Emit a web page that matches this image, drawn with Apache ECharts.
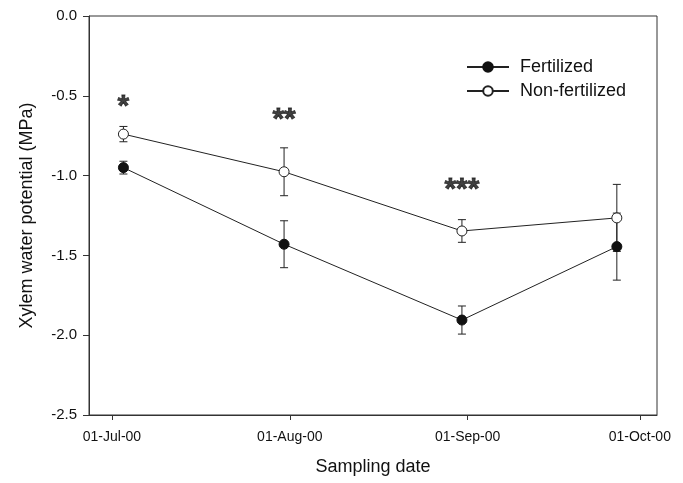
<!DOCTYPE html>
<html>
<head>
<meta charset="utf-8">
<script src="https://cdn.jsdelivr.net/npm/echarts@6/dist/echarts.min.js"></script>
<style>
  html, body { margin: 0; padding: 0; background: #fff; }
  #chart { width: 683px; height: 483px; }
</style>
</head>
<body>
<div id="chart"></div>
<script>
// sampling dates and values (MPa)
var sampleDates = ['2000-07-03', '2000-07-31', '2000-08-31', '2000-09-27'];
var fertMean = [-0.95, -1.43, -1.905, -1.445];
var fertErr = [0.04, 0.147, 0.088, 0.21];
var nonFertMean = [-0.74, -0.976, -1.347, -1.265];
var nonFertErr = [0.048, 0.15, 0.071, 0.21];

// significance marks
var sigDates = ['2000-07-03', '2000-07-31', '2000-08-31'];
var sigLevel = [-0.568, -0.648, -1.088];
var sigText = ['*', '**', '***'];

// axis ticks
var tickDates = ['2000-07-01', '2000-08-01', '2000-09-01', '2000-10-01'];
var tickLabels = ['01-Jul-00', '01-Aug-00', '01-Sep-00', '01-Oct-00'];

var FONT = 'Liberation Sans, Arial, sans-serif';
var INK = '#111';

function t(d) { return Date.parse(d); }
var tickTimes = tickDates.map(t);

function pts(mean) {
  return sampleDates.map(function (d, i) { return [t(d), mean[i]]; });
}
function bars(mean, err) {
  return sampleDates.map(function (d, i) { return [t(d), mean[i] - err[i], mean[i] + err[i]]; });
}

function errorBar(params, api) {
  var x = api.value(0);
  var lo = api.coord([x, api.value(1)]);
  var hi = api.coord([x, api.value(2)]);
  var cap = 4;
  var st = { stroke: '#222', lineWidth: 1 };
  return {
    type: 'group',
    children: [
      { type: 'line', shape: { x1: lo[0], y1: lo[1], x2: hi[0], y2: hi[1] }, style: st },
      { type: 'line', shape: { x1: lo[0] - cap, y1: lo[1], x2: lo[0] + cap, y2: lo[1] }, style: st },
      { type: 'line', shape: { x1: hi[0] - cap, y1: hi[1], x2: hi[0] + cap, y2: hi[1] }, style: st }
    ]
  };
}

var chart = echarts.init(document.getElementById('chart'));

chart.setOption({
  backgroundColor: '#fff',
  animation: false,
  textStyle: { fontFamily: FONT },
  grid: { left: 89, right: 26, top: 16, bottom: 68, show: true, borderColor: '#333', borderWidth: 1 },
  legend: {
    data: ['Fertilized', 'Non-fertilized'],
    orient: 'vertical',
    left: 466,
    top: 58,
    padding: 0,
    itemWidth: 42,
    itemHeight: 12,
    itemGap: 6,
    textStyle: { fontSize: 18, lineHeight: 18, color: INK, fontFamily: FONT, padding: [0, 0, 0, 6] }
  },
  xAxis: {
    type: 'value',
    min: t('2000-06-27'),
    max: t('2000-10-04'),
    name: 'Sampling date',
    nameLocation: 'middle',
    nameGap: 43,
    nameTextStyle: { fontSize: 18, color: INK, fontFamily: FONT },
    axisLine: { onZero: false, lineStyle: { color: '#333' } },
    axisTick: { show: true, inside: false, length: 5, customValues: tickTimes, lineStyle: { color: '#333' } },
    axisLabel: {
      customValues: tickTimes,
      fontSize: 14, color: INK, margin: 15, fontFamily: FONT,
      formatter: function (v) {
        var i = tickTimes.indexOf(v);
        return i >= 0 ? tickLabels[i] : '';
      }
    },
    splitLine: { show: false }
  },
  yAxis: {
    type: 'value',
    min: -2.5,
    max: 0,
    interval: 0.5,
    name: 'Xylem water potential (MPa)',
    nameLocation: 'middle',
    nameGap: 53,
    nameTextStyle: { fontSize: 18, color: INK, fontFamily: FONT },
    axisLine: { show: true, onZero: false, lineStyle: { color: '#333' } },
    axisTick: { show: true, inside: false, length: 6, lineStyle: { color: '#333' } },
    axisLabel: {
      fontSize: 15, color: INK, margin: 12, fontFamily: FONT,
      formatter: function (v) { return v.toFixed(1); }
    },
    splitLine: { show: false }
  },
  series: [
    {
      name: 'errFert',
      type: 'custom',
      renderItem: errorBar,
      data: bars(fertMean, fertErr),
      z: 1
    },
    {
      name: 'errNonFert',
      type: 'custom',
      renderItem: errorBar,
      data: bars(nonFertMean, nonFertErr),
      z: 1
    },
    {
      name: 'Fertilized',
      type: 'line',
      data: pts(fertMean),
      symbol: 'circle',
      symbolSize: 10,
      lineStyle: { color: '#222', width: 1 },
      itemStyle: { color: '#111', borderColor: '#111', borderWidth: 1 },
      z: 3
    },
    {
      name: 'Non-fertilized',
      type: 'line',
      data: pts(nonFertMean),
      symbol: 'circle',
      symbolSize: 10,
      lineStyle: { color: '#222', width: 1 },
      itemStyle: { color: '#fff', borderColor: '#222', borderWidth: 1 },
      z: 4
    },
    {
      name: 'sig',
      type: 'scatter',
      symbolSize: 1,
      itemStyle: { color: 'rgba(0,0,0,0)' },
      data: sigDates.map(function (d, i) { return [t(d), sigLevel[i], sigText[i]]; }),
      label: {
        show: true,
        position: 'inside',
        fontSize: 30,
        fontWeight: 'bold',
        color: INK,
        textBorderColor: INK,
        textBorderWidth: 0.8,
        fontFamily: FONT,
        formatter: function (p) { return p.value[2]; }
      },
      z: 5
    }
  ]
});
</script>
</body>
</html>
